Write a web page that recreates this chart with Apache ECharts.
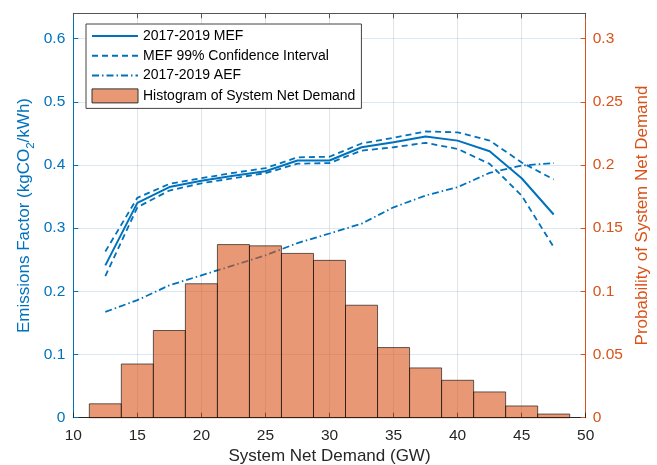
<!DOCTYPE html>
<html>
<head>
<meta charset="utf-8">
<script src="https://cdn.jsdelivr.net/npm/echarts@6/dist/echarts.min.js"></script>
<style>
html,body{margin:0;padding:0;background:#fff;}
#chart{width:657px;height:465px;}
</style>
</head>
<body>
<div id="chart"></div>
<script>
// ---- data ----
const demandGW = [12.5, 15, 17.5, 20, 22.5, 25, 27.5, 30, 32.5, 35, 37.5, 40, 42.5, 45, 47.5];
const mef      = [0.241, 0.340, 0.365, 0.375, 0.383, 0.390, 0.407, 0.407, 0.428, 0.436, 0.445, 0.4385, 0.4216, 0.379, 0.3216];
const mefUpper = [0.263, 0.348, 0.370, 0.379, 0.3875, 0.395, 0.412, 0.413, 0.434, 0.443, 0.453, 0.4516, 0.4385, 0.404, 0.377];
const mefLower = [0.224, 0.333, 0.3595, 0.371, 0.379, 0.387, 0.402, 0.403, 0.4227, 0.428, 0.435, 0.4254, 0.4017, 0.3516, 0.270];
const aef      = [0.1674, 0.186, 0.2095, 0.2253, 0.241, 0.257, 0.2764, 0.2915, 0.307, 0.333, 0.3516, 0.3648, 0.3875, 0.399, 0.403];

const binCenters  = [12.5, 15, 17.5, 20, 22.5, 25, 27.5, 30, 32.5, 35, 37.5, 40, 42.5, 45, 47.5];
const probability = [0.011, 0.0425, 0.069, 0.106, 0.137, 0.136, 0.130, 0.1245, 0.089, 0.0555, 0.0394, 0.0296, 0.0204, 0.0093, 0.0029];
const binWidth = 2.5;

const xTicks = {min: 10, max: 50, interval: 5};
const leftTicks = {min: 0, max: 0.64, interval: 0.1};
const rightTicks = {min: 0, max: 0.32, interval: 0.05};

const legendNames = ['2017-2019 MEF', 'MEF 99% Confidence Interval', '2017-2019 AEF', 'Histogram of System Net Demand'];

// ---- styles ----
const BLUE = '#0072BD';
const ORANGE = '#D95319';
const DARK = '#262626';
const FONT = 'Liberation Sans, Arial, sans-serif';

const pairs = (xs, ys) => xs.map((x, i) => [x, ys[i]]);

const chart = echarts.init(document.getElementById('chart'), null, {renderer: 'canvas'});

const lineBase = {
  type: 'line', xAxisIndex: 0, yAxisIndex: 0,
  symbol: 'none', showSymbol: false, z: 2, silent: true
};

const hiddenSymbol = {opacity: 0};

chart.setOption({
  animation: false,
  textStyle: {fontFamily: FONT},
  grid: {left: 73.3, right: 71.3, top: 13.3, bottom: 47.3, containLabel: false, outerBoundsMode: 'none'},
  legend: {
    orient: 'vertical', left: 86, top: 24,
    itemWidth: 46, itemHeight: 14, itemGap: 5.8,
    padding: [5, 6, 5, 5],
    borderColor: '#444', borderWidth: 1, backgroundColor: '#fff',
    textStyle: {fontSize: 14, color: '#000', fontFamily: FONT},
    selectedMode: false,
    data: [
      {name: legendNames[0], itemStyle: hiddenSymbol},
      {name: legendNames[1], itemStyle: hiddenSymbol},
      {name: legendNames[2], itemStyle: hiddenSymbol},
      {name: legendNames[3], icon: 'rect',
       itemStyle: {color: 'rgba(217,83,25,0.6)', borderColor: '#333', borderWidth: 1}}
    ]
  },
  xAxis: [
    {
      type: 'value', position: 'bottom', min: xTicks.min, max: xTicks.max, interval: xTicks.interval,
      axisLine: {show: true, lineStyle: {color: DARK, width: 1}},
      axisTick: {show: true, inside: true, length: 5, lineStyle: {color: DARK}},
      axisLabel: {fontSize: 15.5, color: DARK, margin: 10, fontFamily: FONT},
      splitLine: {show: true, lineStyle: {color: 'rgba(38,38,38,0.13)', width: 1}},
      name: 'System Net Demand (GW)', nameLocation: 'middle', nameGap: 30, nameMoveOverlap: false,
      nameTextStyle: {fontSize: 17, color: DARK, fontFamily: FONT}
    },
    {
      type: 'value', position: 'top', min: xTicks.min, max: xTicks.max, interval: xTicks.interval,
      axisLine: {show: true, onZero: false, lineStyle: {color: '#555', width: 1}},
      axisTick: {show: true, inside: true, length: 5, lineStyle: {color: '#555'}},
      axisLabel: {show: false},
      splitLine: {show: false}
    }
  ],
  yAxis: [
    {
      type: 'value', position: 'left', min: leftTicks.min, max: leftTicks.max, interval: leftTicks.interval,
      axisLine: {show: true, onZero: false, lineStyle: {color: BLUE, width: 1}},
      axisTick: {show: true, inside: true, length: 5, lineStyle: {color: BLUE}},
      axisLabel: {fontSize: 15.5, color: BLUE, margin: 8, showMaxLabel: false, fontFamily: FONT},
      splitLine: {show: true, lineStyle: {color: 'rgba(0,114,189,0.15)', width: 1}},
      name: 'Emissions Factor (kgCO{sub|2}/kWh)', nameLocation: 'middle', nameGap: 36, nameRotate: 90,
      nameMoveOverlap: false,
      nameTextStyle: {
        fontSize: 17, color: BLUE, fontFamily: FONT,
        rich: {sub: {fontSize: 11.5, color: BLUE, fontFamily: FONT, verticalAlign: 'bottom', lineHeight: 25}}
      }
    },
    {
      type: 'value', position: 'right', min: rightTicks.min, max: rightTicks.max, interval: rightTicks.interval,
      axisLine: {show: true, onZero: false, lineStyle: {color: ORANGE, width: 1}},
      axisTick: {show: true, inside: true, length: 5, lineStyle: {color: ORANGE}},
      axisLabel: {fontSize: 15.5, color: ORANGE, margin: 7, showMaxLabel: false, fontFamily: FONT},
      splitLine: {show: false},
      name: 'Probability of System Net Demand', nameLocation: 'middle', nameGap: 48, nameRotate: 90,
      nameMoveOverlap: false,
      nameTextStyle: {fontSize: 17, color: ORANGE, fontFamily: FONT}
    }
  ],
  series: [
    Object.assign({}, lineBase, {
      name: legendNames[0], data: pairs(demandGW, mef),
      lineStyle: {color: BLUE, width: 2, type: 'solid'}, itemStyle: {color: BLUE}
    }),
    Object.assign({}, lineBase, {
      name: legendNames[1], data: pairs(demandGW, mefUpper),
      lineStyle: {color: BLUE, width: 1.8, type: [6, 4]}, itemStyle: {color: BLUE}
    }),
    Object.assign({}, lineBase, {
      name: legendNames[1], data: pairs(demandGW, mefLower),
      lineStyle: {color: BLUE, width: 1.8, type: [6, 4]}, itemStyle: {color: BLUE}
    }),
    Object.assign({}, lineBase, {
      name: legendNames[2], data: pairs(demandGW, aef),
      lineStyle: {color: BLUE, width: 1.8, type: [7, 3, 1.5, 3]}, itemStyle: {color: BLUE}
    }),
    {
      name: legendNames[3], type: 'custom', xAxisIndex: 0, yAxisIndex: 1, z: 5, silent: true,
      itemStyle: {color: 'rgba(217,83,25,0.6)', borderColor: 'rgba(0,0,0,0.6)', borderWidth: 1},
      data: pairs(binCenters, probability),
      renderItem: function (params, api) {
        const c = api.value(0), p = api.value(1);
        const p0 = api.coord([c - binWidth / 2, 0]);
        const p1 = api.coord([c + binWidth / 2, p]);
        return {
          type: 'rect',
          shape: {x: p0[0], y: p1[1], width: p1[0] - p0[0], height: p0[1] - p1[1]},
          style: {fill: 'rgba(217,83,25,0.6)', stroke: 'rgba(0,0,0,0.6)', lineWidth: 1}
        };
      }
    }
  ]
});
</script>
</body>
</html>
